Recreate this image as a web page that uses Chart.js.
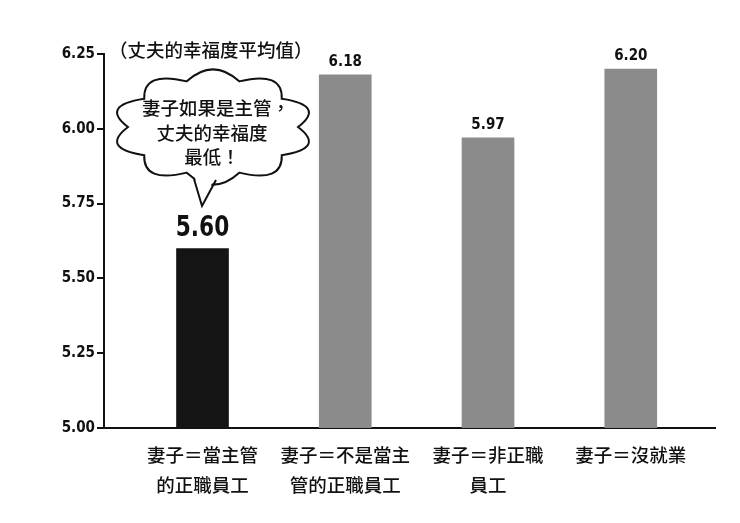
<!DOCTYPE html>
<html>
<head>
<meta charset="utf-8">
<script src="https://cdn.jsdelivr.net/npm/chart.js@4.4.1/dist/chart.umd.min.js"></script>
<style>
  html, body { margin: 0; padding: 0; background: #fff; }
  #wrap { width: 740px; height: 523px; position: relative; }
</style>
</head>
<body>
<div id="wrap"><canvas id="happyChart"></canvas></div>
<script>
// data
const categories = ["妻子＝當主管\n的正職員工", "妻子＝不是當主\n管的正職員工", "妻子＝非正職\n員工", "妻子＝沒就業"];
const happiness = [5.60, 6.18, 5.97, 6.20];
const barColors = ["#141414", "#8b8b8b", "#8b8b8b", "#8b8b8b"];
const yTicks = [5.00, 5.25, 5.50, 5.75, 6.00, 6.25];
const unitTitle = "（丈夫的幸福度平均值）";
const calloutLines = ["妻子如果是主管，", "丈夫的幸福度", "最低！"];

const numFont = '"Liberation Sans Narrow", "DejaVu Sans Condensed", "Liberation Sans", sans-serif';
const cjkFont = '"Noto Sans CJK TC", "Noto Sans CJK SC", sans-serif';

// value labels above bars, first one bigger and squeezed a bit
const valueLabels = {
    id: "valueLabels",
    afterDatasetsDraw(chart) {
        let ctx = chart.ctx;
        let meta = chart.getDatasetMeta(0);
        ctx.save();
        ctx.fillStyle = "#111";
        ctx.textAlign = "center";
        ctx.textBaseline = "bottom";
        meta.data.forEach((bar, i) => {
            if (i == 0) {
                ctx.save();
                ctx.translate(bar.x, bar.y - 6);
                ctx.scale(0.86, 1);
                ctx.font = "bold 28px " + numFont;
                ctx.fillText(happiness[i].toFixed(2), 0, 0);
                ctx.restore();
            } else {
                ctx.font = "bold 15px " + numFont;
                ctx.fillText(happiness[i].toFixed(2), bar.x, bar.y - 5);
            }
        });
        ctx.restore();
    }
};

// unit title + speech cloud
const extras = {
    id: "extras",
    afterDraw(chart) {
        let ctx = chart.ctx;
        ctx.save();
        ctx.fillStyle = "#111";
        ctx.font = "500 18.5px " + cjkFont;
        ctx.textAlign = "left";
        ctx.textBaseline = "middle";
        ctx.fillText(unitTitle, 109, 50);

        // cloud
        let cx = 213, cy = 127, rx = 85, ry = 48, n = 10;
        let start = -Math.PI / 2 + Math.PI / n;
        ctx.beginPath();
        for (let i = 0; i <= n; i++) {
            let a = start + (i / n) * Math.PI * 2;
            let px = cx + rx * Math.cos(a), py = cy + ry * Math.sin(a);
            if (i == 0) { ctx.moveTo(px, py); continue; }
            let m = a - Math.PI / n;
            let qx = cx + rx * 1.4 * Math.cos(m), qy = cy + ry * 1.45 * Math.sin(m);
            ctx.quadraticCurveTo(qx, qy, px, py);
        }
        ctx.closePath();
        ctx.fillStyle = "#fff";
        ctx.fill();
        ctx.lineWidth = 2;
        ctx.strokeStyle = "#111";
        ctx.stroke();

        // tail
        ctx.beginPath();
        ctx.moveTo(194, 174);
        ctx.lineTo(202, 206);
        ctx.lineTo(216, 174);
        ctx.closePath();
        ctx.fillStyle = "#fff";
        ctx.fill();
        ctx.beginPath();
        ctx.moveTo(194, 179);
        ctx.lineTo(202, 206);
        ctx.lineTo(216, 180);
        ctx.stroke();

        ctx.fillStyle = "#111";
        ctx.font = "500 18.5px " + cjkFont;
        ctx.textAlign = "center";
        calloutLines.forEach((t, i) => {
            let dx = i == 0 ? 4 : 0;
            ctx.fillText(t, 212 + dx, 108 + i * 24.5);
        });
        ctx.restore();
    }
};

let barData = happiness.map((v, i) => ({ x: i, y: v }));

let ctx = document.getElementById("happyChart").getContext("2d");
let happyChart = new Chart(ctx, {
    type: "bar",
    data: {
        datasets: [{
            data: barData,
            backgroundColor: barColors,
            borderWidth: 0,
            barThickness: 52
        }]
    },
    options: {
        responsive: true,
        maintainAspectRatio: false,
        animation: false,
        layout: { padding: { left: 0, top: 54, right: 25, bottom: 0 } },
        plugins: {
            legend: { display: false },
            tooltip: { enabled: false }
        },
        scales: {
            x: {
                type: "linear",
                offset: false,
                bounds: "ticks",
                min: -0.69,
                max: 3.59,
                afterBuildTicks: (scale) => {
                    scale.ticks = categories.map((c, i) => ({ value: i }));
                },
                afterFit: (scale) => { scale.height = 95; },
                ticks: {
                    autoSkip: false,
                    maxRotation: 0,
                    padding: 12,
                    color: "#111",
                    font: { family: cjkFont, size: 18.5, weight: "500", lineHeight: 1.62 },
                    callback: (v) => categories[v] ? categories[v].split("\n") : ""
                },
                grid: { display: false, drawTicks: false, tickLength: 0 },
                border: { display: true, color: "#111", width: 2 }
            },
            y: {
                min: 5,
                max: 6.25,
                afterBuildTicks: (scale) => {
                    scale.ticks = yTicks.map(v => ({ value: v }));
                },
                afterFit: (scale) => { scale.width = 104; },
                ticks: {
                    color: "#111",
                    padding: 2,
                    font: { family: numFont, size: 15, weight: "bold" },
                    callback: (v) => Number(v).toFixed(2)
                },
                grid: { display: true, drawOnChartArea: false, drawTicks: true, tickLength: 7, color: "#111", lineWidth: 2 },
                border: { display: true, color: "#111", width: 2 }
            }
        }
    },
    plugins: [valueLabels, extras]
});
</script>
</body>
</html>
